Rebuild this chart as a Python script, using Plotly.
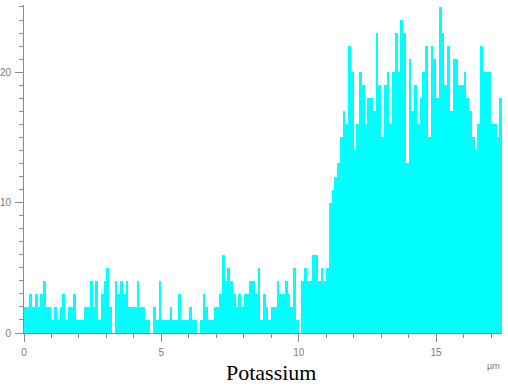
import numpy as np
import plotly.graph_objects as go

# Potassium line-scan profile: counts per 0.1 µm step along the scan line
step_um = 0.1
counts = [
    # 0.0 - 3.5 µm
    2, 2, 3, 2, 3, 2, 3, 4, 2, 2,
    1, 2, 1, 2, 3, 1, 2, 2, 3, 1,
    1, 1, 2, 2, 4, 2, 4, 1, 3, 4,
    5, 2, 0, 4, 3,
    # 3.5 - 7.0 µm
    4, 3, 4, 2, 2, 2, 4, 2, 2, 1,
    1, 0, 2, 1, 4, 1, 1, 1, 2, 1,
    1, 3, 1, 1, 1, 2, 1, 1, 0, 1,
    3, 2, 1, 1, 2,
    # 7.0 - 10.0 µm
    2, 3, 6, 4, 5, 4, 3, 2, 3, 2,
    3, 3, 4, 4, 3, 5, 1, 3, 2, 1,
    2, 2, 4, 3, 3, 4, 3, 2, 5, 1,
    # 10.0 - 12.4 µm
    0, 4, 5, 4, 4, 6, 6, 4, 5, 4,
    5, 10, 11, 12, 13, 15, 17, 16, 22, 20,
    14, 16, 20, 19,
    # 12.4 - 15.0 µm
    16, 18, 18, 17, 23, 19, 15, 19, 20, 16,
    20, 23, 20, 24, 23, 13, 21, 17, 19, 16,
    18, 20, 22, 15, 22, 21,
    # 15.0 - 17.4 µm
    18, 25, 23, 19, 22, 17, 21, 21, 19, 19,
    20, 18, 17, 15, 14, 16, 22, 20, 20, 20,
    16, 16, 15, 18,
]
position_um = np.round((np.arange(len(counts)) + 0.5) * step_um, 3)

x_ticks = [0, 5, 10, 15]
y_ticks = [0, 10, 20]

axis_grey = "#8a8a8a"
label_grey = "#7a7a7a"

fig = go.Figure(
    go.Bar(
        x=position_um,
        y=counts,
        width=step_um,
        marker=dict(color="#00ffff", line=dict(width=0)),
        hoverinfo="x+y",
    )
)

fig.update_layout(
    width=508,
    height=387,
    margin=dict(l=24, r=6, t=5, b=54),
    paper_bgcolor="white",
    plot_bgcolor="white",
    bargap=0,
    showlegend=False,
    font=dict(family="Liberation Sans, Arial, sans-serif", size=10, color=label_grey),
)

axis_style = dict(
    ticks="outside",
    ticklen=8,
    tickwidth=1,
    tickcolor=axis_grey,
    minor=dict(dtick=1, ticks="outside", ticklen=4, tickcolor=axis_grey, showgrid=False),
    showline=True,
    linecolor=axis_grey,
    linewidth=1,
    showgrid=False,
    zeroline=False,
    tickfont=dict(size=10, color=label_grey),
    ticklabelstandoff=2,
    automargin=False,
)

fig.update_xaxes(range=[0, 17.4], tickvals=x_ticks, **axis_style)
fig.update_yaxes(range=[0, 25.15], tickvals=y_ticks, **axis_style)

fig.add_annotation(
    text="µm",
    xref="paper", yref="paper",
    x=1.0, y=-0.10,
    xanchor="right", yanchor="middle",
    showarrow=False,
    font=dict(size=9, color=label_grey),
)

fig.add_annotation(
    text="Potassium",
    xref="paper", yref="paper",
    x=0.516, y=-0.119,
    xanchor="center", yanchor="middle",
    showarrow=False,
    font=dict(family="Liberation Serif, Times New Roman, serif", size=22, color="black"),
)

fig.write_html("out.html")
